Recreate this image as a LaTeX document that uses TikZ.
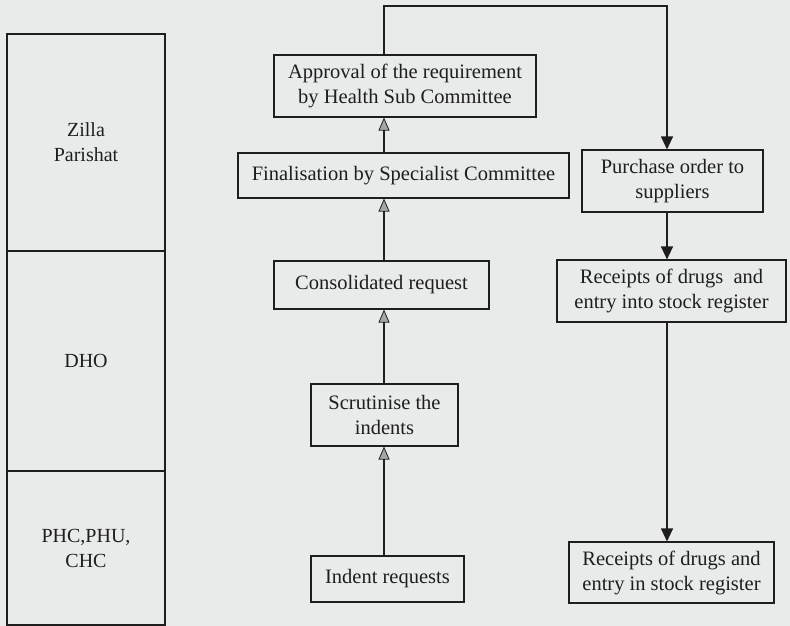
\documentclass[tikz,border=0pt]{standalone}
\usepackage{fontspec}
\setmainfont{Liberation Serif}
\usetikzlibrary{arrows.meta}

\definecolor{paper}{HTML}{E9EAEA}
\definecolor{ink}{HTML}{1E1E1E}

\tikzset{
  box/.style={draw=ink, line width=1.1pt, text=ink, align=center,
    inner sep=0pt, font=\fontsize{20.5}{25}\selectfont},
  level/.style={box, minimum width=158pt, font=\fontsize{20}{25}\selectfont},
  link/.style={draw=ink, line width=1.1pt},
  uparrow/.style={link, -{Triangle[width=11pt,length=13pt,fill=gray!70,line width=0.8pt]}},
  downarrow/.style={link, -{Triangle[width=12pt,length=13pt,fill=ink]}},
}

\begin{document}
\begin{tikzpicture}[x=1pt, y=-1pt]
  % paper
  \fill[paper] (0,0) rectangle (790,626);
  \useasboundingbox (0,0) rectangle (790,626);

  % administrative levels
  \node[level, minimum height=217pt] (zp)  at (86,142.5) {Zilla\\Parishat};
  \node[level, minimum height=220pt] (dho) at (86,361)   {DHO};
  \node[level, minimum height=154pt] (phc) at (86,548)   {PHC,PHU,\\CHC};

  % indent flow (upwards)
  \node[box, minimum width=262pt, minimum height=62pt] (appr) at (405,86)
    {Approval of the requirement\\by Health Sub Committee};
  \node[box, minimum width=331pt, minimum height=45pt] (fin) at (403.5,175.5)
    {Finalisation by Specialist Committee};
  \node[box, minimum width=215pt, minimum height=48pt] (cons) at (381.5,285)
    {Consolidated request};
  \node[box, minimum width=147pt, minimum height=62pt] (scr) at (384.5,415)
    {Scrutinise the\\indents};
  \node[box, minimum width=153pt, minimum height=46pt] (ind) at (387.5,579)
    {Indent requests};

  % supply flow (downwards)
  \node[box, minimum width=181pt, minimum height=62pt] (po) at (672.5,181)
    {Purchase order to\\suppliers};
  \node[box, minimum width=229pt, minimum height=62pt] (rec1) at (671.5,291)
    {Receipts of drugs\ \ and\\entry into stock register};
  \node[box, minimum width=205pt, minimum height=61pt] (rec2) at (671.5,572.5)
    {Receipts of drugs and\\entry in stock register};

  % vertical guide lines for the connectors
  \coordinate (lspine) at (384,0);
  \coordinate (rspine) at (667,0);
  \coordinate (topl) at (384,6);
  \coordinate (topr) at (667,6);

  \draw[uparrow] (ind.north -| lspine) -- (scr.south -| lspine);
  \draw[uparrow] (scr.north -| lspine) -- (cons.south -| lspine);
  \draw[uparrow] (cons.north -| lspine) -- (fin.south -| lspine);
  \draw[uparrow] (fin.north -| lspine) -- (appr.south -| lspine);

  \draw[downarrow] (appr.north -| lspine) -- (topl) -- (topr) -- (po.north -| rspine);
  \draw[downarrow] (po.south -| rspine) -- (rec1.north -| rspine);
  \draw[downarrow] (rec1.south -| rspine) -- (rec2.north -| rspine);
\end{tikzpicture}
\end{document}
